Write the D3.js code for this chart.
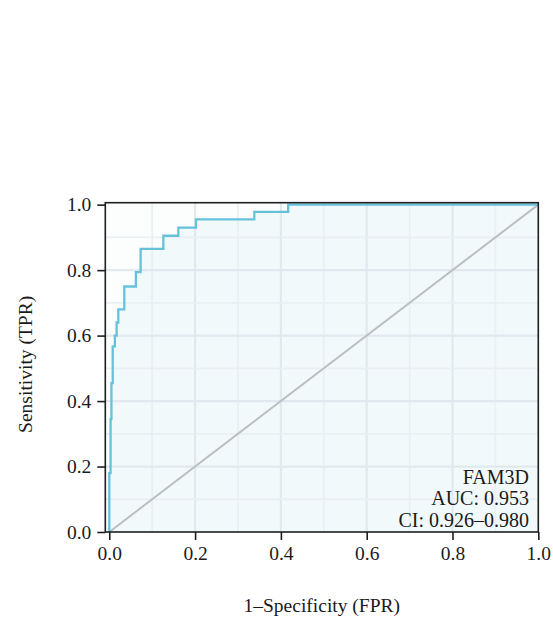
<!DOCTYPE html>
<html>
<head>
<meta charset="utf-8">
<script src="https://cdn.jsdelivr.net/npm/d3@7"></script>
<style>
  html, body { margin: 0; padding: 0; background: #ffffff; }
  svg text { font-family: "Liberation Serif", "DejaVu Serif", serif; fill: #1a1a1a; }
</style>
</head>
<body>
<svg id="chart" width="553" height="620"></svg>
<script>
// ROC curve points for FAM3D (false positive rate, true positive rate)
const fpr = [0, 0, 0.003, 0.005, 0.008, 0.013, 0.017, 0.021, 0.035, 0.062, 0.073, 0.126, 0.161, 0.202, 0.338, 0.417, 1];
const tpr = [0, 0.18, 0.345, 0.455, 0.567, 0.60, 0.64, 0.68, 0.75, 0.794, 0.865, 0.905, 0.93, 0.955, 0.978, 1, 1];

const tickValues = [0, 0.2, 0.4, 0.6, 0.8, 1.0];
const gridValues = [0.1, 0.2, 0.3, 0.4, 0.5, 0.6, 0.7, 0.8, 0.9];
const legendLines = ["FAM3D", "AUC: 0.953", "CI: 0.926\u20130.980"];
const xTitle = "1\u2013Specificity (FPR)";
const yTitle = "Sensitivity (TPR)";

const svg = d3.select("#chart");
const plot = { left: 105.3, right: 538.3, top: 202.7, bottom: 532 };

const x = d3.scaleLinear().domain([-0.0093, 1]).range([plot.left, plot.right]);
const y = d3.scaleLinear().domain([0, 1.006]).range([plot.bottom, plot.top]);

const pts = fpr.map((f, i) => ({ f, t: tpr[i] }));

svg.append("defs").append("clipPath").attr("id", "plotClip")
  .append("rect")
  .attr("x", plot.left).attr("y", plot.top)
  .attr("width", plot.right - plot.left).attr("height", plot.bottom - plot.top);

const g = svg.append("g").attr("clip-path", "url(#plotClip)");

// panel background
g.append("rect")
  .attr("x", plot.left).attr("y", plot.top)
  .attr("width", plot.right - plot.left).attr("height", plot.bottom - plot.top)
  .attr("fill", "#fcfefe");

// shaded area under the ROC curve
g.append("path")
  .datum(pts)
  .attr("fill", "#f2f9fb")
  .attr("d", d3.area().curve(d3.curveStepAfter)
    .x(d => x(d.f)).y0(y(0)).y1(d => y(d.t)));

// grid lines (every 0.1, stronger at the labelled values)
const isMajor = v => Math.abs(v * 5 - Math.round(v * 5)) < 1e-6;
g.selectAll(".vgrid").data(gridValues).join("line")
  .attr("x1", d => x(d)).attr("x2", d => x(d))
  .attr("y1", plot.top).attr("y2", plot.bottom)
  .attr("stroke", d => isMajor(d) ? "#dfe9ee" : "#e9f0f3")
  .attr("stroke-width", d => isMajor(d) ? 2.2 : 1.8);
g.selectAll(".hgrid").data(gridValues).join("line")
  .attr("y1", d => y(d)).attr("y2", d => y(d))
  .attr("x1", plot.left).attr("x2", plot.right)
  .attr("stroke", d => isMajor(d) ? "#dfe9ee" : "#e9f0f3")
  .attr("stroke-width", d => isMajor(d) ? 2.2 : 1.8);

// reference diagonal
g.append("line")
  .attr("x1", x(0)).attr("y1", y(0))
  .attr("x2", x(1)).attr("y2", y(1))
  .attr("stroke", "#bcbfc1").attr("stroke-width", 2);

// ROC curve
g.append("path")
  .datum(pts)
  .attr("fill", "none")
  .attr("stroke", "#66c1db")
  .attr("stroke-width", 2.3)
  .attr("d", d3.line().curve(d3.curveStepAfter).x(d => x(d.f)).y(d => y(d.t)));

// frame
svg.append("rect")
  .attr("x", plot.left).attr("y", plot.top)
  .attr("width", plot.right - plot.left).attr("height", plot.bottom - plot.top)
  .attr("fill", "none").attr("stroke", "#1e1e1e").attr("stroke-width", 1.6);

// axes
const fmt = d3.format(".1f");
const xAxis = svg.append("g").attr("transform", `translate(0,${plot.bottom})`)
  .call(d3.axisBottom(x).tickValues(tickValues).tickFormat(fmt).tickSize(8).tickSizeOuter(0).tickPadding(6));
const yAxis = svg.append("g").attr("transform", `translate(${plot.left},0)`)
  .call(d3.axisLeft(y).tickValues(tickValues).tickFormat(fmt).tickSize(8).tickSizeOuter(0).tickPadding(6));
[xAxis, yAxis].forEach(a => {
  a.select(".domain").remove();
  a.selectAll(".tick line").attr("stroke", "#1e1e1e").attr("stroke-width", 1.6);
  a.selectAll(".tick text").style("font-size", "19.5px").attr("fill", "#1a1a1a");
});

// axis titles
svg.append("text")
  .attr("x", (plot.left + plot.right) / 2).attr("y", 612)
  .attr("text-anchor", "middle").style("font-size", "19.5px")
  .text(xTitle);
svg.append("text")
  .attr("transform", `translate(32,${(plot.top + plot.bottom) / 2 - 3}) rotate(-90)`)
  .attr("text-anchor", "middle").style("font-size", "19.5px")
  .text(yTitle);

// legend in the lower-right corner
svg.append("g").selectAll("text").data(legendLines).join("text")
  .attr("x", 529).attr("y", (d, i) => 484 + i * 21.3)
  .attr("text-anchor", "end").style("font-size", "20px")
  .text(d => d);
</script>
</body>
</html>
